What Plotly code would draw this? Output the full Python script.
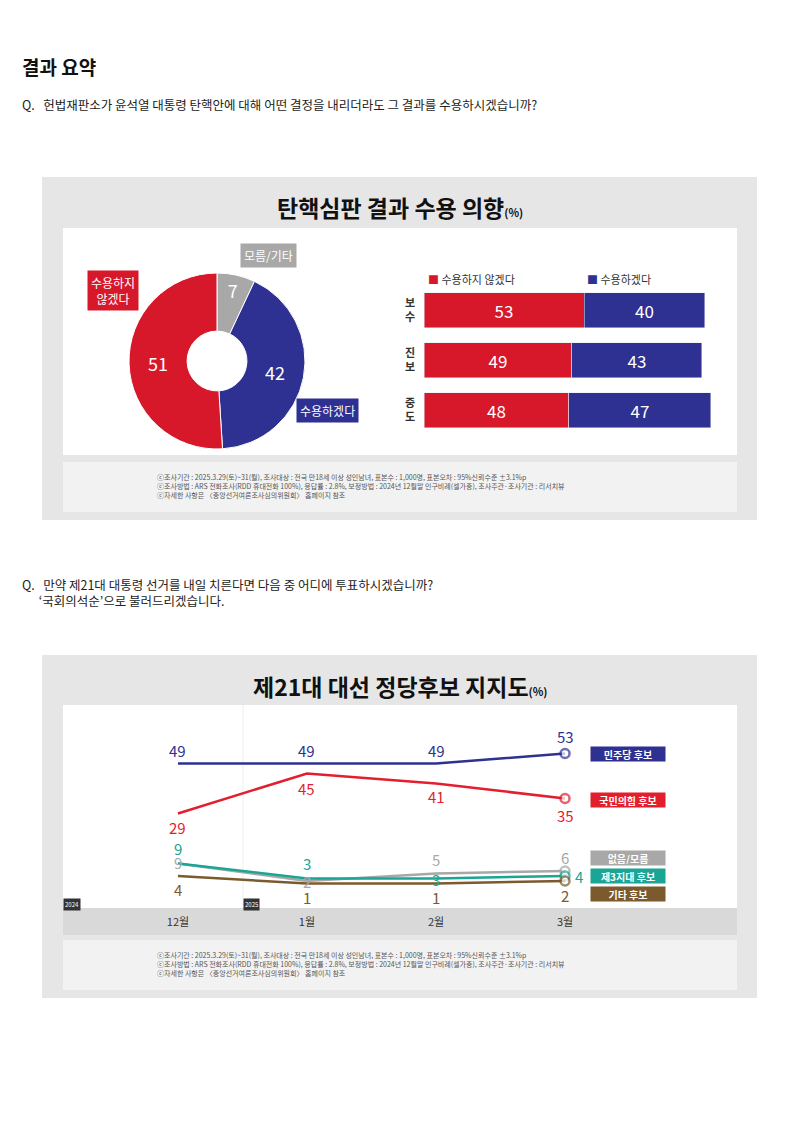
import plotly.graph_objects as go

W, H = 800, 1132
FONT = "Noto Sans CJK KR"

# chart 1: pie
pie_labels = ["모름/기타", "수용하겠다", "수용하지 않겠다"]
pie_values = [7, 42, 51]

# chart 1: bars
groups = ["보수", "진보", "중도"]
reject = [53, 49, 48]
accept = [40, 43, 47]

# chart 2: lines
months = ["12월", "1월", "2월", "3월"]
dem = [49, 49, 49, 53]
ppp = [29, 45, 41, 35]
none_dk = [9, 2, 5, 6]
third = [9, 3, 3, 4]
other = [4, 1, 1, 2]

RED, BLUE, GRAY = "#d7182a", "#2e3192", "#a8a8a8"
NAVY, CRED, TEAL, BROWN = "#2e3192", "#e31e2d", "#1aa595", "#7b5a2e"

OFF = 8  # page body margin in the browser


def px(x):
    return (x - OFF) / W


def py(y):
    return 1 - (y - OFF) / H


fig = go.Figure()

fig.add_trace(go.Pie(
    labels=pie_labels, values=pie_values, hole=0.34, sort=False,
    direction="clockwise", rotation=0,
    marker=dict(colors=[GRAY, BLUE, RED], line=dict(color="white", width=1)),
    textinfo="value", textposition="inside", insidetextorientation="horizontal",
    textfont=dict(color="white", size=18, family=FONT),
    domain=dict(x=[px(129), px(305)], y=[py(449), py(273)]),
    showlegend=False,
))

fig.add_trace(go.Bar(y=groups, x=reject, orientation="h", marker_color=RED,
                     text=reject, textposition="inside", insidetextanchor="middle",
                     textfont=dict(color="white", size=17), width=0.7,
                     xaxis="x", yaxis="y", showlegend=False))
fig.add_trace(go.Bar(y=groups, x=accept, orientation="h", marker_color=BLUE,
                     text=accept, textposition="inside", insidetextanchor="middle",
                     textfont=dict(color="white", size=17), width=0.7,
                     xaxis="x", yaxis="y", showlegend=False))

series = [
    ("민주당 후보", dem, NAVY),
    ("국민의힘 후보", ppp, CRED),
    ("없음/모름", none_dk, GRAY),
    ("제3지대 후보", third, TEAL),
    ("기타 후보", other, BROWN),
]
xs = list(range(len(months)))
for name, vals, col in series:
    fig.add_trace(go.Scatter(
        x=xs, y=vals, mode="lines+markers", line=dict(color=col, width=2.5),
        marker=dict(size=[0, 0, 0, 9], color="white", line=dict(color=col, width=2.5)),
        xaxis="x2", yaxis="y2", showlegend=False, cliponaxis=False))

ann = []
# point labels: (xshift, yshift) per point
shifts = {
    "민주당 후보": [(0, 13), (0, 13), (0, 13), (0, 17)],
    "국민의힘 후보": [(0, -14), (0, -15), (0, -13), (0, -17)],
    "없음/모름": [(0, 1), (0, 0), (0, 14), (0, 14)],
    "제3지대 후보": [(0, 15), (0, 15), (0, -1), (14, 0)],
    "기타 후보": [(0, -13), (0, -14), (0, -14), (0, -14)],
}
for name, vals, col in series:
    for i, v in enumerate(vals):
        dx, dy = shifts[name][i]
        ann.append(dict(x=i, y=v, xref="x2", yref="y2", text=str(v), showarrow=False,
                        xshift=dx, yshift=dy, xanchor="center", yanchor="middle",
                        font=dict(size=15, color=col, family=FONT)))

# legend pills (chart 2)
pills = [("민주당 후보", 754, NAVY), ("국민의힘 후보", 800, CRED), ("없음/모름", 858, GRAY),
         ("제3지대 후보", 876, TEAL), ("기타 후보", 894, BROWN)]
for t, y, c in pills:
    ann.append(dict(x=px(628), y=py(y), text="<b>%s</b>" % t, bgcolor=c,
                    font=dict(color="white", size=10), width=72, height=12, borderpad=1))

# callouts (chart 1)
for x, y, t, c in ((268, 255, "모름/기타", GRAY), (113, 290, "수용하지<br>않겠다", RED),
                   (327, 410, "수용하겠다", BLUE)):
    ann.append(dict(x=px(x), y=py(y), text=t, bgcolor=c, borderpad=3,
                    font=dict(color="white", size=12)))

# bar legend
ann += [
    dict(x=px(426), y=py(279), text="<span style='color:%s'>■</span> 수용하지 않겠다" % RED,
         xanchor="left", font=dict(size=11, color="#333")),
    dict(x=px(585), y=py(279), text="<span style='color:%s'>■</span> 수용하겠다" % BLUE,
         xanchor="left", font=dict(size=11, color="#333")),
]

# titles and page texts
ann += [
    dict(x=px(20), y=py(66), text="<b>결과 요약</b>", xanchor="left", font=dict(size=19, color="#111")),
    dict(x=px(20), y=py(104), xanchor="left",
         text="Q.   헌법재판소가 윤석열 대통령 탄핵안에 대해 어떤 결정을 내리더라도 그 결과를 수용하시겠습니까?",
         font=dict(size=12.5, color="#222")),
    dict(x=px(20), y=py(592), xanchor="left", align="left",
         text="Q.   만약 제21대 대통령 선거를 내일 치른다면 다음 중 어디에 투표하시겠습니까?<br>      ‘국회의석순’으로 불러드리겠습니다.",
         font=dict(size=12.5, color="#222")),
    dict(x=px(400), y=py(207), text="<b>탄핵심판 결과 수용 의향</b><span style='font-size:11px'><b>(%)</b></span>",
         font=dict(size=23, color="#111")),
    dict(x=px(400), y=py(686), text="<b>제21대 대선 정당후보 지지도</b><span style='font-size:11px'><b>(%)</b></span>",
         font=dict(size=23, color="#111")),
    dict(x=px(63), y=py(904), text="2024", xanchor="left", bgcolor="#333",
         font=dict(size=6, color="white")),
    dict(x=px(243), y=py(904), text="2025", xanchor="left", bgcolor="#333",
         font=dict(size=6, color="white")),
]
note = ("ⓒ조사기간 : 2025.3.29(토)~31(월), 조사대상 : 전국 만18세 이상 성인남녀, 표본수 : 1,000명, 표본오차 : 95%신뢰수준 ±3.1%p<br>"
        "ⓒ조사방법 : ARS 전화조사(RDD 휴대전화 100%), 응답률 : 2.8%, 보정방법 : 2024년 12월말 인구비례(셀가중), 조사주관·조사기관 : 리서치뷰<br>"
        "ⓒ자세한 사항은 〈중앙선거여론조사심의위원회〉 홈페이지 참조")
for yc in (486, 964):
    ann.append(dict(x=px(155), y=py(yc), text=note, xanchor="left", align="left",
                    font=dict(size=7, color="#555")))
for a in ann:
    a.setdefault("xref", "paper")
    a.setdefault("yref", "paper")
    a.setdefault("showarrow", False)
    a.setdefault("xanchor", "center")
    a.setdefault("yanchor", "middle")
    a["font"].setdefault("family", FONT)


def rect(x0, y0, x1, y1, color):
    return dict(type="rect", xref="paper", yref="paper", x0=px(x0), x1=px(x1),
                y0=py(y1), y1=py(y0), fillcolor=color, line_width=0, layer="below")


shapes = []
for y0, y1, inner, foot in ((177, 520, (228, 455), (462, 512)), (655, 998, (705, 935), (940, 990))):
    shapes.append(rect(42, y0, 757, y1, "#e6e6e6"))
    shapes.append(rect(63, inner[0], 737, inner[1], "white"))
    shapes.append(rect(63, foot[0], 737, foot[1], "#f2f2f2"))
shapes.append(rect(63, 908, 737, 935, "#d9d9d9"))
shapes.append(dict(type="line", xref="paper", yref="paper", x0=px(243), x1=px(243),
                   y0=py(908), y1=py(705), line=dict(color="#eeeeee", width=1), layer="below"))

fig.update_layout(
    width=W, height=H, margin=dict(l=0, r=0, t=0, b=0),
    paper_bgcolor="white", plot_bgcolor="rgba(0,0,0,0)",
    font=dict(family=FONT), barmode="stack",
    xaxis=dict(domain=[px(424), px(726)], range=[0, 100], visible=False),
    yaxis=dict(domain=[py(435), py(285)], autorange="reversed",
               tickvals=groups, ticktext=["<b>보<br>수</b>", "<b>진<br>보</b>", "<b>중<br>도</b>"],
               tickfont=dict(size=11, color="#333"), showgrid=False, zeroline=False,
               showline=False, ticks="", ticklabelstandoff=8),
    xaxis2=dict(domain=[px(63), px(737)], range=[-0.891, 4.333], tickvals=xs, ticktext=months,
                tickfont=dict(size=11, color="#333"), showgrid=False, zeroline=False,
                showline=False, ticks="", anchor="y2", ticklabelstandoff=6),
    yaxis2=dict(domain=[py(908), py(736)], range=[-8.8, 60], visible=False, anchor="x2"),
    annotations=ann, shapes=shapes,
)

fig.write_html("out.html")
